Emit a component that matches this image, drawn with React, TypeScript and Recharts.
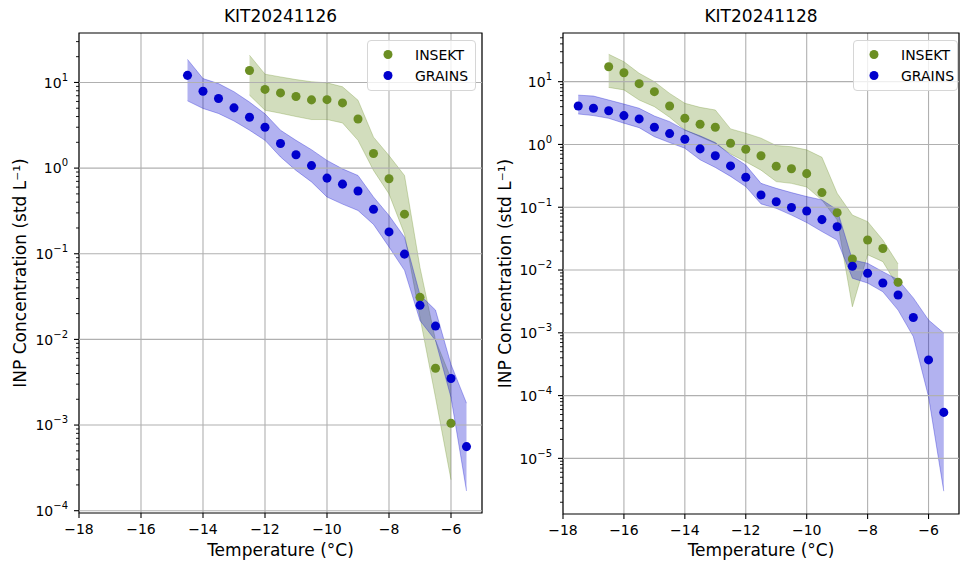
import React from 'react';
import {
  ComposedChart, Area, Scatter, XAxis, YAxis, CartesianGrid,
  ReferenceLine, ReferenceArea, Legend, Label
} from 'recharts';

const FONT = '"DejaVu Sans", sans-serif';
const GREEN = '#6b8e23';
const BLUE = '#0000cd';
const seriesOrder = ['INSEKT', 'GRAINS'];

// KIT20241126
const tInsekt1 = [-12.5, -12, -11.5, -11, -10.5, -10, -9.5, -9, -8.5, -8, -7.5, -7, -6.5, -6];
const insekt1 = [13.8, 8.3, 7.55, 6.86, 6.26, 6.3, 5.77, 3.75, 1.48, 0.75, 0.29, 0.031, 0.0046, 0.00105];
const insekt1Lo = [7.1, 4.74, 4.37, 4.0, 3.69, 3.69, 3.37, 2.11, 0.94, 0.5, 0.17, 0.018, 0.0021, 0.00023];
const insekt1Hi = [20.8, 12.5, 11.6, 10.8, 10.2, 9.9, 8.9, 6.2, 2.3, 1.4, 0.82, 0.069, 0.0098, 0.0035];

const tGrains1 = [-14.5, -14, -13.5, -13, -12.5, -12, -11.5, -11, -10.5, -10, -9.5, -9, -8.5, -8, -7.5, -7, -6.5, -6, -5.5];
const grains1 = [12.1, 7.9, 6.5, 5.05, 3.93, 3.0, 1.94, 1.43, 1.07, 0.764, 0.65, 0.54, 0.33, 0.18, 0.099, 0.025, 0.0143, 0.0035, 0.00056];
const grains1Lo = [6.1, 4.97, 4.34, 3.55, 2.77, 2.11, 1.35, 0.94, 0.69, 0.46, 0.38, 0.32, 0.22, 0.12, 0.064, 0.0166, 0.0097, 0.0021, 0.00017];
const grains1Hi = [18.6, 11.1, 9.7, 7.8, 5.9, 4.3, 2.77, 2.11, 1.64, 1.23, 0.98, 0.82, 0.46, 0.28, 0.156, 0.033, 0.022, 0.0051, 0.0018];

// KIT20241128
const tInsekt2 = [-16.5, -16, -15.5, -15, -14.5, -14, -13.5, -13, -12.5, -12, -11.5, -11, -10.5, -10, -9.5, -9, -8.5, -8, -7.5, -7];
const insekt2 = [17.3, 13.9, 9.3, 6.93, 4.1, 2.61, 2.1, 1.88, 1.045, 0.84, 0.66, 0.45, 0.41, 0.343, 0.171, 0.082, 0.015, 0.03, 0.022, 0.0064];
const insekt2Lo = [8.1, 7.4, 5.1, 4.0, 2.71, 1.7, 1.33, 1.04, 0.706, 0.53, 0.39, 0.256, 0.24, 0.21, 0.13, 0.063, 0.0026, 0.0175, 0.0136, 0.0054];
const insekt2Hi = [27.3, 20.8, 13.6, 10, 6.5, 4.53, 3.9, 3.54, 1.77, 1.51, 1.26, 0.96, 0.92, 0.82, 0.625, 0.167, 0.075, 0.059, 0.03, 0.0125];

const tGrains2 = [-17.5, -17, -16.5, -16, -15.5, -15, -14.5, -14, -13.5, -13, -12.5, -12, -11.5, -11, -10.5, -10, -9.5, -9, -8.5, -8, -7.5, -7, -6.5, -6, -5.5];
const grains2 = [4.1, 3.77, 3.45, 2.88, 2.55, 1.88, 1.49, 1.21, 0.85, 0.66, 0.455, 0.3, 0.157, 0.122, 0.099, 0.087, 0.0635, 0.049, 0.0115, 0.0089, 0.0062, 0.004, 0.00175, 0.00037, 0.000054];
const grains2Lo = [3.06, 2.88, 2.61, 2.18, 1.85, 1.33, 1.07, 0.87, 0.57, 0.43, 0.31, 0.213, 0.113, 0.096, 0.075, 0.057, 0.041, 0.03, 0.0074, 0.0062, 0.0045, 0.0023, 0.00087, 0.000096, 0.000003];
const grains2Hi = [6.1, 5.9, 5.1, 4.4, 3.77, 2.84, 2.31, 1.7, 1.37, 1.07, 0.68, 0.47, 0.24, 0.2, 0.171, 0.148, 0.131, 0.091, 0.0145, 0.0128, 0.0094, 0.007, 0.0036, 0.0016, 0.00099];

const xTicks = [-18, -16, -14, -12, -10, -8, -6];
const majors1 = [1e-4, 1e-3, 1e-2, 1e-1, 1, 10];
const majors2 = [1e-5, 1e-4, 1e-3, 1e-2, 1e-1, 1, 10];

const pts = (ts: number[], vs: number[]) => ts.map((t, i) => ({ t, v: vs[i] }));
const band = (ts: number[], lo: number[], hi: number[]) =>
  ts.map((t, i) => ({ t, lo: lo[i], hi: hi[i] }));

const minorsFor = (lo: number, hi: number) => {
  const out: number[] = [];
  for (let e = -6; e <= 2; e++) {
    for (let k = 2; k <= 9; k++) {
      const v = k * Math.pow(10, e);
      if (v > lo && v < hi) out.push(v);
    }
  }
  return out;
};

const minus = (s: string) => s.replace('-', '\u2212');

const LogTick = (props: any) => {
  const { x, y, payload, majors } = props;
  const v = payload.value;
  const isMajor = majors.some((m: number) => Math.abs(m - v) / m < 1e-9);
  if (!isMajor) {
    return <line x1={x - 3} x2={x} y1={y} y2={y} stroke="#000" strokeWidth={0.9} />;
  }
  const e = Math.round(Math.log10(v));
  return (
    <g>
      <line x1={x - 5} x2={x} y1={y} y2={y} stroke="#000" strokeWidth={1.1} />
      <text x={x - 11} y={y + 5.3} textAnchor="end" fontSize={14} fontFamily={FONT} fill="#000">
        <tspan>10</tspan>
        <tspan dy={-7} fontSize={10}>{minus(String(e))}</tspan>
      </text>
    </g>
  );
};

const LegendBox = (props: any) => {
  const items = (props.payload || [])
    .filter((p: any) => p.type !== 'none')
    .sort((a: any, b: any) => seriesOrder.indexOf(a.value) - seriesOrder.indexOf(b.value));
  return (
    <div style={{
      border: '1px solid #d6d6d6', borderRadius: 4, background: 'rgba(255,255,255,0.8)',
      padding: '3px 0 4px 0', fontFamily: FONT, fontSize: 14, color: '#000'
    }}>
      {items.map((it: any) => (
        <div key={it.value} style={{ display: 'flex', alignItems: 'center', height: 21 }}>
          <svg width={47} height={21}>
            <circle cx={20} cy={10.5} r={4.5} fill={it.color} />
          </svg>
          <span>{it.value}</span>
        </div>
      ))}
    </div>
  );
};

type PanelProps = {
  title: string;
  width: number;
  marginRight: number;
  yWidth: number;
  xHeight: number;
  yDomain: [number, number];
  majors: number[];
  yLabelOffset: number;
  legendPos: { left: number; width: number };
  insektBand: any[];
  insektPts: any[];
  grainsBand: any[];
  grainsPts: any[];
};

const Panel = (p: PanelProps) => {
  const height = 565;
  const plotLeft = p.yWidth;
  const plotRight = p.width - p.marginRight;
  const ticks = [...p.majors, ...minorsFor(p.yDomain[0], p.yDomain[1])].sort((a, b) => a - b);
  return (
    <div style={{ position: 'relative', width: p.width, height }}>
      <div style={{
        position: 'absolute', left: plotLeft, width: plotRight - plotLeft, top: 5,
        textAlign: 'center', fontFamily: FONT, fontSize: 17, lineHeight: '22px', color: '#000'
      }}>{p.title}</div>
      <ComposedChart width={p.width} height={height}
        margin={{ top: 33, right: p.marginRight, bottom: 0, left: 0 }}>
        <CartesianGrid horizontal={false} stroke="#b0b0b0" strokeWidth={1.1} strokeDasharray="" />
        <XAxis dataKey="t" type="number" domain={[-18, -5]} allowDataOverflow ticks={xTicks}
          height={p.xHeight} axisLine={false} tickSize={5} tickMargin={6}
          tickLine={{ stroke: '#000', strokeWidth: 1.1 }}
          tick={{ fill: '#000', fontSize: 14, fontFamily: FONT }}
          tickFormatter={(v: number) => minus(String(v))}>
          <Label value="Temperature (°C)" position="insideBottom" offset={9}
            style={{ fontSize: 17, fontFamily: FONT, fill: '#000' }} />
        </XAxis>
        <YAxis type="number" scale="log" domain={p.yDomain} allowDataOverflow ticks={ticks}
          width={p.yWidth} axisLine={false} tickLine={false} tickSize={0} tickMargin={0}
          interval={0} tick={<LogTick majors={p.majors} />}>
          <Label value="INP Concentration (std L⁻¹)" angle={-90} position="insideLeft" offset={p.yLabelOffset}
            style={{ textAnchor: 'middle', fontSize: 17, fontFamily: FONT, fill: '#000' }} />
        </YAxis>
        {p.majors.map((m) => (
          <ReferenceLine key={m} y={m} stroke="#b0b0b0" strokeWidth={1.1} />
        ))}
        <Area data={p.insektBand} dataKey={(d: any) => [d.lo, d.hi]} type="linear"
          fill={GREEN} fillOpacity={0.3} stroke={GREEN} strokeOpacity={0.3} strokeWidth={1}
          isAnimationActive={false} legendType="none" activeDot={false} dot={false} />
        <Area data={p.grainsBand} dataKey={(d: any) => [d.lo, d.hi]} type="linear"
          fill={BLUE} fillOpacity={0.3} stroke={BLUE} strokeOpacity={0.3} strokeWidth={1}
          isAnimationActive={false} legendType="none" activeDot={false} dot={false} />
        <Scatter name="INSEKT" data={p.insektPts} dataKey="v" fill={GREEN} isAnimationActive={false} />
        <Scatter name="GRAINS" data={p.grainsPts} dataKey="v" fill={BLUE} isAnimationActive={false} />
        <ReferenceArea x1={-18} x2={-5} y1={p.yDomain[0]} y2={p.yDomain[1]}
          fill="none" fillOpacity={0} stroke="#000" strokeWidth={1.1} ifOverflow="visible" />
        <Legend layout="horizontal" verticalAlign="middle" align="center"
          wrapperStyle={{ top: 40, left: p.legendPos.left, width: p.legendPos.width, height: 'auto' }}
          content={<LegendBox />} />
      </ComposedChart>
    </div>
  );
};

export default function App() {
  return (
    <div style={{ position: 'absolute', left: 0, top: 0, width: 961, height: 565, background: '#fff' }}>
      <div style={{ position: 'absolute', left: 0, top: 0 }}>
        <Panel title="KIT20241126" width={490} marginRight={8} yWidth={79} xHeight={52}
          yDomain={[9.4e-5, 37.8]} majors={majors1} yLabelOffset={20}
          legendPos={{ left: 367, width: 109 }}
          insektBand={band(tInsekt1, insekt1Lo, insekt1Hi)} insektPts={pts(tInsekt1, insekt1)}
          grainsBand={band(tGrains1, grains1Lo, grains1Hi)} grainsPts={pts(tGrains1, grains1)} />
      </div>
      <div style={{ position: 'absolute', left: 490, top: 0 }}>
        <Panel title="KIT20241128" width={471} marginRight={2} yWidth={73} xHeight={51}
          yDomain={[1.3e-6, 59.6]} majors={majors2} yLabelOffset={15}
          legendPos={{ left: 363, width: 105 }}
          insektBand={band(tInsekt2, insekt2Lo, insekt2Hi)} insektPts={pts(tInsekt2, insekt2)}
          grainsBand={band(tGrains2, grains2Lo, grains2Hi)} grainsPts={pts(tGrains2, grains2)} />
      </div>
    </div>
  );
}
